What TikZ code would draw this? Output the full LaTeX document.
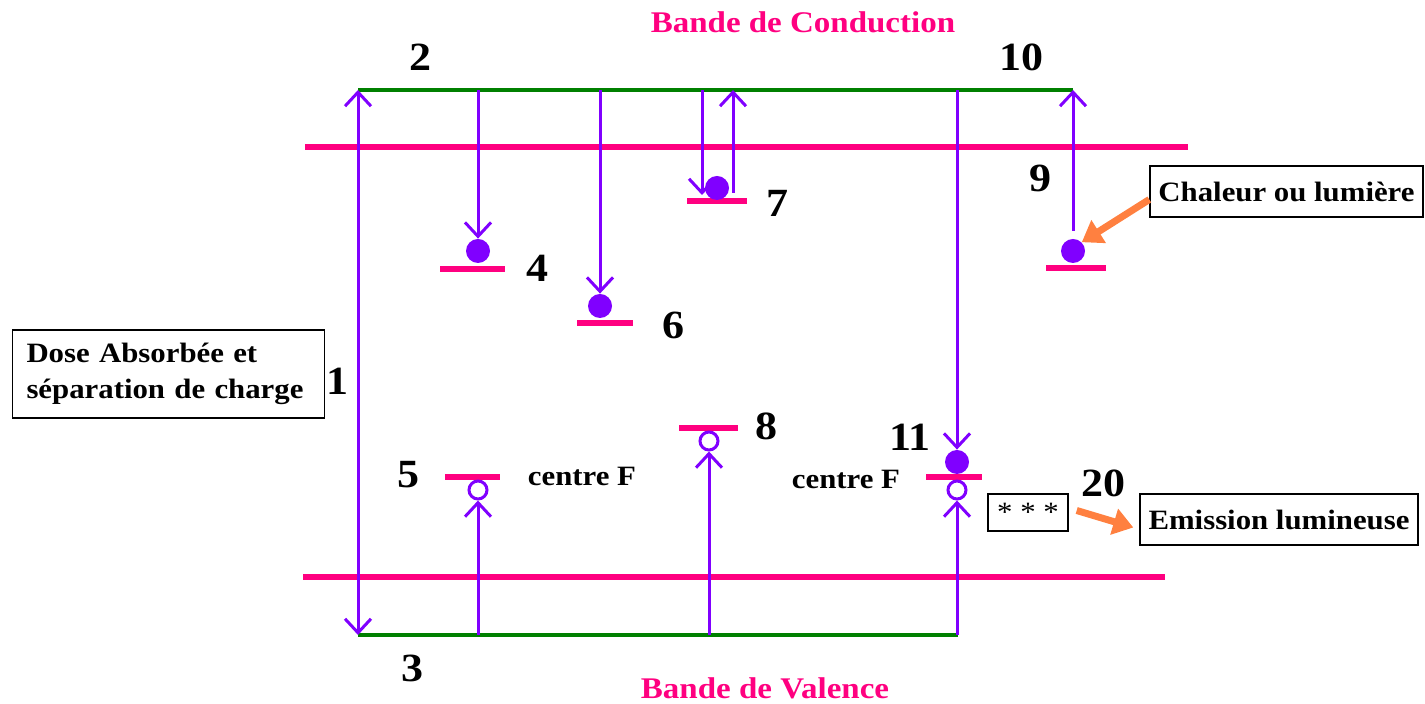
\documentclass[tikz,border=0pt]{standalone}
\usepackage{fontspec}
\setmainfont{Liberation Serif}[FakeStretch=1.1]
\usepackage{xcolor}
\usetikzlibrary{arrows.meta,positioning,calc}

\definecolor{trapviolet}{HTML}{8000FF}
\definecolor{bandpink}{HTML}{FF0080}
\definecolor{edgegreen}{HTML}{008000}
\definecolor{gloworange}{HTML}{FF8040}

\begin{document}
\begin{tikzpicture}[x=0.5pt, y=-0.5pt,
    band/.style={draw=bandpink, line width=3pt},
    level/.style={draw=bandpink, line width=2.6pt},
    edge/.style={draw=edgegreen, line width=1.8pt},
    trans/.style={draw=trapviolet, line width=1.5pt, -{Straight Barb[length=7pt,width=13pt]}},
    elec/.style={circle, fill=trapviolet, inner sep=0pt, minimum size=12pt},
    hole/.style={circle, draw=trapviolet, line width=1.5pt, fill=white, inner sep=0pt, minimum size=9pt},
    num/.style={font=\fontsize{20}{22}\selectfont\bfseries},
    txt/.style={font=\fontsize{14}{18}\selectfont\bfseries},
    title/.style={font=\fontsize{15}{18}\selectfont\bfseries, text=bandpink, inner sep=1pt},
    infobox/.style={draw, line width=0.7pt, txt, inner sep=2pt},
    glow/.style={draw=gloworange, line width=3.5pt, -{Triangle[length=10pt,width=13pt]}}]
    \useasboundingbox (0,0) rectangle (1425,704);

    % Band titles
    \node[title] (cond) at (803,22) {Bande de Conduction};
    \node[title] (val) at (765,688) {Bande de Valence};

    % Conduction and valence band edges
    \coordinate (c2) at (358,90);
    \coordinate (c10) at (1073,90);
    \coordinate (c3) at (358,635);
    \coordinate (c11) at (958,635);
    \draw[edge] (c2) -- (c10);
    \draw[edge] (c3) -- (c11);
    \draw[band] (305,147) -- (1188,147);
    \draw[band] (303,577) -- (1165,577);

    % Trap levels
    \draw[level] (440,269) -- (505,269);
    \draw[level] (577,323) -- (633,323);
    \draw[level] (687,201) -- (747,201);
    \draw[level] (1046,268) -- (1106,268);
    \draw[level] (445,477) -- (500,477);
    \draw[level] (679,428) -- (738,428);
    \draw[level] (926,477) -- (982,477);

    % Trapped electrons and holes
    \node[elec] (e4) at (478,251) {};
    \node[elec] (e6) at (600,306) {};
    \node[elec] (e7) at (717,188) {};
    \node[elec] (e9) at (1073,251) {};
    \node[elec] (e11) at (957,462) {};
    \node[hole] (h5) at (478,490) {};
    \node[hole] (h8) at (709,441) {};
    \node[hole] (h11) at (957,490) {};

    % Transitions
    \draw[trans, {Straight Barb[length=7pt,width=13pt]}-{Straight Barb[length=7pt,width=13pt]}] (c2) -- (c3);
    \draw[trans] (e4.north |- c2) -- (e4.north);
    \draw[trans] (e6.north |- c2) -- (e6.north);
    \draw[trans] (702,90) -- (702,195);
    \draw[trans] (733,193) -- (733,90);
    \draw[trans] ([yshift=4pt]e9.north) -- (c10);
    \draw[trans] (e11.north |- c2) -- (e11.north);
    \draw[trans] (h5.south |- c3) -- (h5.south);
    \draw[trans] (h8.south |- c3) -- (h8.south);
    \draw[trans] (h11.south |- c3) -- (h11.south);

    % Numbers
    \node[num] (n1) at (337,381) {1};
    \node[num] (n2) at (420,57) {2};
    \node[num] (n3) at (412,668) {3};
    \node[num] (n4) at (537,268) {4};
    \node[num] (n5) at (408,475) {5};
    \node[num] (n6) at (673,325) {6};
    \node[num] (n7) at (777,203) {7};
    \node[num] (n8) at (766,426) {8};
    \node[num] (n9) at (1040,178) {9};
    \node[num] (n10) at (1021,57) {10};
    \node[num] (n11) at (910,437) {11};
    \node[num] (n20) at (1103,483) {20};

    % Labels
    \node[txt] (f5) at (582,476) {centre F};
    \node[txt] (f11) at (846,479) {centre F};
    \node[infobox, align=left, text width=142pt, inner xsep=7pt, minimum height=44pt] (dose) at (168.5,374)
        {Dose Absorbée et\\séparation de charge};
    \node[infobox, minimum width=136.5pt, minimum height=25.5pt] (chaleur) at (1286.5,191.5) {Chaleur ou lumière};
    \node[infobox, font=\fontsize{14}{18}\selectfont, minimum width=40pt, minimum height=18.5pt] (stars) at (1028,512.5) {* * *};
    \node[infobox, minimum width=139pt, minimum height=25.5pt] (emission) at (1279,519.5) {Emission lumineuse};

    % Heat / light in, light out
    \draw[glow] ([yshift=-4pt]chaleur.west) -- (e9.north east);
    \draw[glow] ([xshift=4pt,yshift=1pt]stars.east) -- ([xshift=-3pt,yshift=-4pt]emission.west);
\end{tikzpicture}
\end{document}
